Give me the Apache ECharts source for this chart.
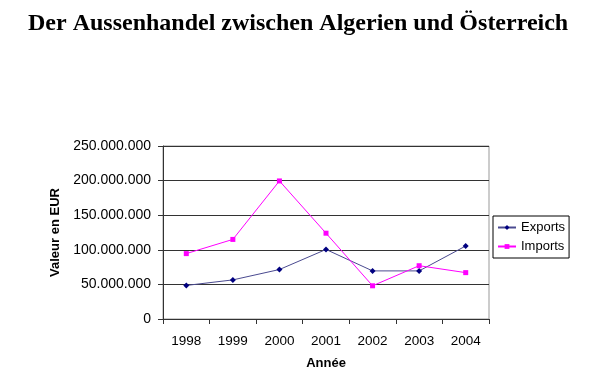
<!DOCTYPE html>
<html><head><meta charset="utf-8">
<script src="https://cdn.jsdelivr.net/npm/echarts@6/dist/echarts.min.js"></script>
<style>html,body{margin:0;padding:0;background:#fff}#c{width:607px;height:389px}</style>
</head><body><div id="c"></div>
<script>
var years = ['1998','1999','2000','2001','2002','2003','2004'];
var exportsData = [48500000, 56500000, 71500000, 100500000, 69500000, 69500000, 105500000];
var importsData = [94500000, 115000000, 199500000, 124000000, 48000000, 77000000, 67000000];
var yTicks = {min: 0, max: 250000000, interval: 50000000};

function fmt(v){ return String(v).replace(/\B(?=(\d{3})+(?!\d))/g, '.'); }

var chart = echarts.init(document.getElementById('c'), null, {renderer:'canvas'});
chart.setOption({
  animation: false,
  backgroundColor: '#fff',
  title: {
    text: 'Der Aussenhandel zwischen Algerien und Österreich',
    left: 23, top: 7,
    textStyle: {fontFamily: 'Liberation Serif', fontWeight: 'bold', fontSize: 24, color: '#000'}
  },
  grid: {left: 163, right: 118, top: 146, bottom: 70, show: true, borderColor: '#999', borderWidth: 1},
  legend: {
    orient: 'vertical', left: 493, top: 216,
    data: ['Exports', 'Imports'],
    borderColor: '#000', borderWidth: 1, padding: [5, 4, 5, 4],
    itemWidth: 18, itemHeight: 6, itemGap: 6,
    textStyle: {fontFamily: 'Liberation Sans', fontSize: 13, color: '#000'}
  },
  xAxis: {
    type: 'category', data: years, boundaryGap: true,
    name: 'Année', nameLocation: 'middle', nameGap: 38,
    nameTextStyle: {fontFamily: 'Liberation Sans', fontWeight: 'bold', fontSize: 13, color: '#000'},
    axisLine: {lineStyle: {color: '#333'}},
    axisTick: {show: true, length: 5, lineStyle: {color: '#333'}},
    axisLabel: {fontFamily: 'Liberation Sans', fontSize: 13.5, color: '#000', margin: 15}
  },
  yAxis: {
    type: 'value', min: yTicks.min, max: yTicks.max, interval: yTicks.interval,
    name: 'Valeur en EUR', nameLocation: 'middle', nameGap: 100, nameRotate: 90,
    nameTextStyle: {fontFamily: 'Liberation Sans', fontWeight: 'bold', fontSize: 13, color: '#000'},
    axisLine: {show: true, lineStyle: {color: '#333'}},
    axisTick: {show: true, length: 5, inside: false, lineStyle: {color: '#333'}},
    axisLabel: {fontFamily: 'Liberation Sans', fontSize: 14, color: '#000', margin: 12, formatter: fmt},
    splitLine: {lineStyle: {color: '#333', width: 1}}
  },
  series: [
    {name: 'Exports', type: 'line', data: exportsData, symbol: 'diamond', symbolSize: 6,
     itemStyle: {color: '#000080'}, lineStyle: {color: '#4a4a90', width: 1}},
    {name: 'Imports', type: 'line', data: importsData, symbol: 'rect', symbolSize: 5,
     itemStyle: {color: '#FF00FF'}, lineStyle: {color: '#FF00FF', width: 1}}
  ]
});
</script></body></html>
